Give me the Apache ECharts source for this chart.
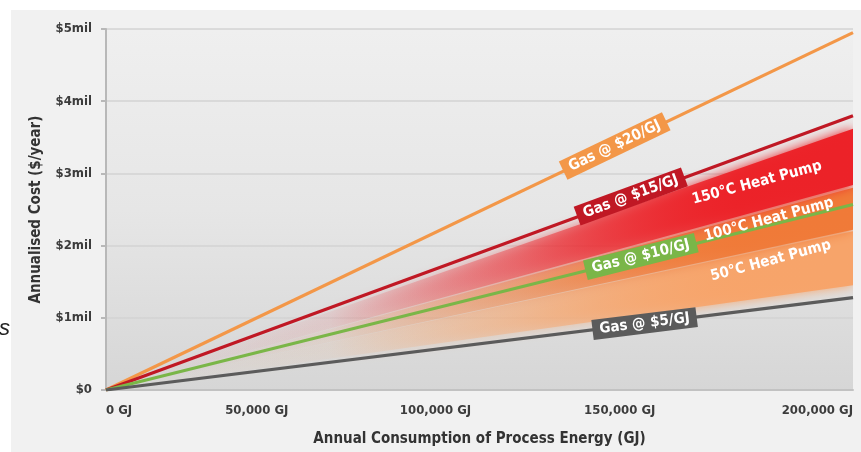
<!DOCTYPE html>
<html>
<head>
<meta charset="utf-8">
<script src="https://cdn.jsdelivr.net/npm/echarts@6/dist/echarts.min.js"></script>
<style>
  html, body { margin: 0; background: #fff; }
  #chart { width: 861px; height: 452px; }
</style>
</head>
<body>
<div id="chart"></div>
<script>
// x: annual consumption (GJ), y: annualised cost in $ million
const xLabels = ['0 GJ', '50,000 GJ', '100,000 GJ', '150,000 GJ', '200,000 GJ']
const yLabels = ['$0', '$1mil', '$2mil', '$3mil', '$4mil', '$5mil']

const gasNames = ['Gas @ $20/GJ', 'Gas @ $15/GJ', 'Gas @ $10/GJ', 'Gas @ $5/GJ']
const gasColors = ['#f39748', '#c01824', '#7ab648', '#5b5b5b']
const gasEnd = [4.95, 3.8, 2.57, 1.28]          // cost at 200,000 GJ
const gasTagAt = [[136200, 3.38], [140500, 2.68], [143200, 1.85], [144200, 0.92]]

const pumpNames = ['50°C Heat Pump', '100°C Heat Pump', '150°C Heat Pump']
const pumpColors = ['#f7a46a', '#f07a38', '#ec2228']
const pumpLow = [1.45, 2.22, 2.84]               // band bottom at 200,000 GJ
const pumpHigh = [2.2, 2.8, 3.62]                // band top at 200,000 GJ
const pumpTagAt = [[178000, 1.79], [177500, 2.36], [174300, 2.87]]

const X_MAX = 200000
const FONT = "'Liberation Sans Narrow', 'DejaVu Sans Condensed', 'Liberation Sans', sans-serif"

const chart = echarts.init(document.getElementById('chart'))

function fade(hex) {
  const r = parseInt(hex.slice(1, 3), 16)
  const g = parseInt(hex.slice(3, 5), 16)
  const b = parseInt(hex.slice(5, 7), 16)
  const c = (a) => `rgba(${r},${g},${b},${a})`
  return new echarts.graphic.LinearGradient(0, 0, 1, 0, [
    { offset: 0, color: c(0) },
    { offset: 0.3, color: c(0.06) },
    { offset: 0.55, color: c(0.4) },
    { offset: 0.85, color: c(0.95) },
    { offset: 1, color: c(1) },
  ])
}

// heat pump bands: wedge from the origin to [low, high] at 200,000 GJ
const bandSeries = pumpNames.map((name, i) => ({
  name: name,
  type: 'custom',
  silent: true,
  clip: true,
  z: 1,
  data: [[X_MAX, pumpLow[i], pumpHigh[i]]],
  renderItem: (params, api) => {
    const p0 = api.coord([0, 0])
    const p1 = api.coord([api.value(0), api.value(2)])
    const p2 = api.coord([api.value(0), api.value(1)])
    return {
      type: 'polygon',
      shape: { points: [p0, p1, p2] },
      style: {
        fill: fade(pumpColors[i]),
        shadowBlur: 12,
        shadowColor: pumpColors[i],
      },
    }
  },
}))

const gasSeries = gasNames.map((name, i) => ({
  name: name,
  type: 'line',
  symbol: 'none',
  lineStyle: { color: gasColors[i], width: 3.2 },
  data: [[0, 0], [X_MAX, gasEnd[i]]],
  z: 3,
}))

function tagSeries(angles) {
  const gasTags = gasNames.map((name, i) => ({
    type: 'scatter',
    symbolSize: 0,
    silent: true,
    z: 5,
    itemStyle: { opacity: 1 },
    data: [{ name: name, value: gasTagAt[i] }],
    label: {
      show: true,
      position: 'inside',
      formatter: '{b}',
      rotate: angles[i],
      color: '#fff',
      fontFamily: FONT,
      fontWeight: 'bold',
      fontSize: 15,
      backgroundColor: gasColors[i],
      padding: [3, 7, 2, 7],
    },
  }))
  const pumpTags = pumpNames.map((name, i) => ({
    type: 'scatter',
    symbolSize: 0,
    silent: true,
    z: 5,
    itemStyle: { opacity: 1 },
    data: [{ name: name, value: pumpTagAt[i] }],
    label: {
      show: true,
      position: 'inside',
      formatter: '{b}',
      rotate: 15,
      color: '#fff',
      fontFamily: FONT,
      fontWeight: 'bold',
      fontSize: 15,
    },
  }))
  return gasTags.concat(pumpTags)
}

const tickRich = {}
const shifts = [0, 72, 88, 93, 0]
xLabels.forEach((t, i) => {
  tickRich['t' + i] = {
    fontFamily: FONT,
    fontWeight: 'bold',
    fontSize: 13,
    color: '#3c3c3c',
    padding: [0, shifts[i], 0, 0],
  }
})

const option = {
  animation: false,
  graphic: [
    {
      type: 'rect',
      shape: { x: 11, y: 10, width: 850, height: 442 },
      style: { fill: '#f1f1f1' },
      z: -10,
      silent: true,
    },
    {
      type: 'text',
      left: -1,
      top: 318,
      style: {
        text: 's',
        font: 'italic 22px "Liberation Sans", sans-serif',
        fill: '#222',
      },
      silent: true,
    },
  ],
  grid: {
    left: 106,
    right: 8,
    top: 29,
    bottom: 55,
    show: true,
    borderWidth: 0,
    backgroundColor: new echarts.graphic.LinearGradient(0, 0, 0, 1, [
      { offset: 0, color: '#efefef' },
      { offset: 0.5, color: '#e6e6e6' },
      { offset: 1, color: '#d6d6d6' },
    ]),
  },
  xAxis: {
    type: 'value',
    min: 0,
    max: X_MAX,
    interval: 50000,
    name: 'Annual Consumption of Process Energy (GJ)',
    nameLocation: 'middle',
    nameGap: 42,
    nameTextStyle: {
      fontFamily: FONT,
      fontWeight: 'bold',
      fontSize: 15,
      color: '#333',
    },
    axisLine: { show: true, lineStyle: { color: '#c2c2c2', width: 2 } },
    axisTick: { show: false },
    splitLine: { show: false },
    axisLabel: {
      margin: 14,
      alignMinLabel: 'left',
      alignMaxLabel: 'right',
      formatter: (v) => {
        const i = Math.round(v / 50000)
        return '{t' + i + '|' + xLabels[i] + '}'
      },
      rich: tickRich,
    },
  },
  yAxis: {
    type: 'value',
    min: 0,
    max: 5,
    interval: 1,
    name: 'Annualised Cost ($/year)',
    nameLocation: 'middle',
    nameGap: 62,
    nameTextStyle: {
      fontFamily: FONT,
      fontWeight: 'bold',
      fontSize: 15,
      color: '#333',
    },
    axisLine: { show: true, lineStyle: { color: '#b8b8b8', width: 2 } },
    axisTick: { show: true, length: 5, lineStyle: { color: '#b8b8b8', width: 2 } },
    splitLine: { show: true, lineStyle: { color: '#d3d3d3', width: 1.5 } },
    axisLabel: {
      margin: 14,
      fontFamily: FONT,
      fontWeight: 'bold',
      fontSize: 13,
      color: '#3c3c3c',
      formatter: (v) => yLabels[Math.round(v)],
    },
  },
  series: bandSeries.concat(gasSeries).concat(tagSeries([0, 0, 0, 0])),
}

chart.setOption(option)

// turn each gas tag to follow its line on screen
const origin = chart.convertToPixel({ gridIndex: 0 }, [0, 0])
const angles = gasEnd.map((v) => {
  const p = chart.convertToPixel({ gridIndex: 0 }, [X_MAX, v])
  return (Math.atan2(origin[1] - p[1], p[0] - origin[0]) * 180) / Math.PI
})
option.series = bandSeries.concat(gasSeries).concat(tagSeries(angles))
chart.setOption(option, true)
</script>
</body>
</html>
